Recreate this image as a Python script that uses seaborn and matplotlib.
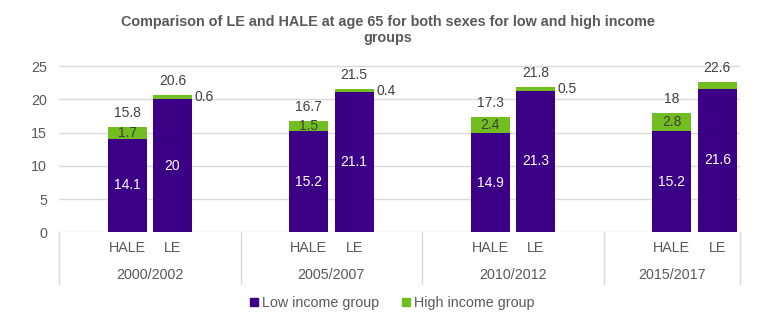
import numpy as np
import pandas as pd
import matplotlib
matplotlib.use("Agg")
import matplotlib.pyplot as plt
import seaborn as sns
from matplotlib.lines import Line2D
from matplotlib.transforms import blended_transform_factory

# ---- data ----
periods = ["2000/2002", "2005/2007", "2010/2012", "2015/2017"]
measures = ["HALE", "LE"]
low_income = [14.1, 20.0, 15.2, 21.1, 14.9, 21.3, 15.2, 21.6]
high_gap = [1.7, 0.6, 1.5, 0.4, 2.4, 0.5, 2.8, 1.0]
high_total = [15.8, 20.6, 16.7, 21.5, 17.3, 21.8, 18.0, 22.6]
y_ticks = [0, 5, 10, 15, 20, 25]
title = "Comparison of LE and HALE at age 65 for both sexes for low and high income\ngroups"
legend_labels = ["Low income group", "High income group"]

# ---- style ----
PURPLE = "#3C0087"
GREEN = "#72BE21"
GRID = "#D9D9D9"
TXT = "#595959"
LBL = "#404040"

sns.set_style("white")
plt.rcParams["font.family"] = ["Liberation Sans", "DejaVu Sans"]

W, H = 770, 334
fig = plt.figure(figsize=(W / 100, H / 100), dpi=100)

ax_left_px, ax_right_px = 59, 740
base_px = 232.3
px_per_unit = 6.652
ymax = 25.1
ax_h_px = ymax * px_per_unit
ax = fig.add_axes([ax_left_px / W, (H - base_px) / H,
                   (ax_right_px - ax_left_px) / W, ax_h_px / H])

slots_per_group = 4
n = len(periods) * len(measures)
pos = [slots_per_group * (i // 2) + (i % 2) for i in range(n)]
df = pd.DataFrame({
    "pos": pos,
    "measure": [measures[i % 2] for i in range(n)],
    "period": [periods[i // 2] for i in range(n)],
    "low": low_income,
    "gap": high_gap,
    "total": high_total,
})

bar_w = 0.86
sns.barplot(data=df, x="pos", y="total", native_scale=True, color=GREEN,
            saturation=1, width=bar_w, errorbar=None, linewidth=0, ax=ax)
sns.barplot(data=df, x="pos", y="low", native_scale=True, color=PURPLE,
            saturation=1, width=bar_w, errorbar=None, linewidth=0, ax=ax)

xlim = (-1.5, 13.5)
ax.set_xlim(*xlim)
ax.set_ylim(0, ymax)
ax.set_yticks(y_ticks)
ax.set_yticklabels([str(t) for t in y_ticks])
ax.yaxis.grid(True, color=GRID, linewidth=1)
ax.set_axisbelow(True)
for s in ax.spines.values():
    s.set_visible(False)
ax.set_xlabel("")
ax.set_ylabel("")
ax.tick_params(axis="y", length=0, pad=8.5, labelsize=10.3, labelcolor=TXT)
ax.set_xticks(df["pos"])
ax.set_xticklabels(df["measure"])
ax.tick_params(axis="x", length=0, pad=6.5, labelsize=10.3, labelcolor=TXT)

# category box
bt = blended_transform_factory(ax.transData, ax.transAxes)
box_depth = -52 / ax_h_px
bounds = [-1.5 + slots_per_group * g for g in range(len(periods))] + [xlim[1]]
for b in bounds:
    ax.plot([b, b], [0, box_depth], transform=bt, color=GRID, lw=1,
            clip_on=False, zorder=0)
for g, p in enumerate(periods):
    lo = bounds[g]
    hi = min(lo + slots_per_group, xlim[1])
    ax.text((lo + hi) / 2, -43 / ax_h_px, p, transform=bt, ha="center",
            va="center", fontsize=10.3, color=TXT)

# data labels
for i, r in df.iterrows():
    x = r["pos"]
    ax.text(x, r["low"] / 2, f"{r['low']:g}", ha="center", va="center",
            color="white", fontsize=10)
    mid_gap = r["low"] + r["gap"] / 2
    if r["measure"] == "HALE":
        ax.text(x, mid_gap, f"{r['gap']:g}", ha="center", va="center",
                color=LBL, fontsize=10)
    else:
        ax.annotate(f"{r['gap']:g}", (x + bar_w / 2, mid_gap),
                    xytext=(2, 0), textcoords="offset points",
                    ha="left", va="center", color=LBL, fontsize=10,
                    annotation_clip=False, clip_on=True)
    ax.annotate(f"{r['total']:g}", (x, r["total"]), xytext=(0, 10),
                textcoords="offset points", ha="center", va="center",
                color=LBL, fontsize=10, annotation_clip=False)

# title
fig.text(388 / W, 1 - 15 / H, title, ha="center", va="top",
         multialignment="center", fontsize=10.4, fontweight="bold",
         color=TXT, linespacing=1.15)

# legend
handles = [Line2D([], [], marker="s", ls="", color=PURPLE, markersize=5.5),
           Line2D([], [], marker="s", ls="", color=GREEN, markersize=5.5)]
fig.legend(handles, legend_labels, loc="center", ncol=2,
           bbox_to_anchor=(392 / W, 1 - 303 / H), frameon=False,
           fontsize=10.3, labelcolor=TXT, handlelength=0.6,
           handletextpad=0.25, columnspacing=1.6, borderaxespad=0)

fig.savefig("out.png", dpi=100)
